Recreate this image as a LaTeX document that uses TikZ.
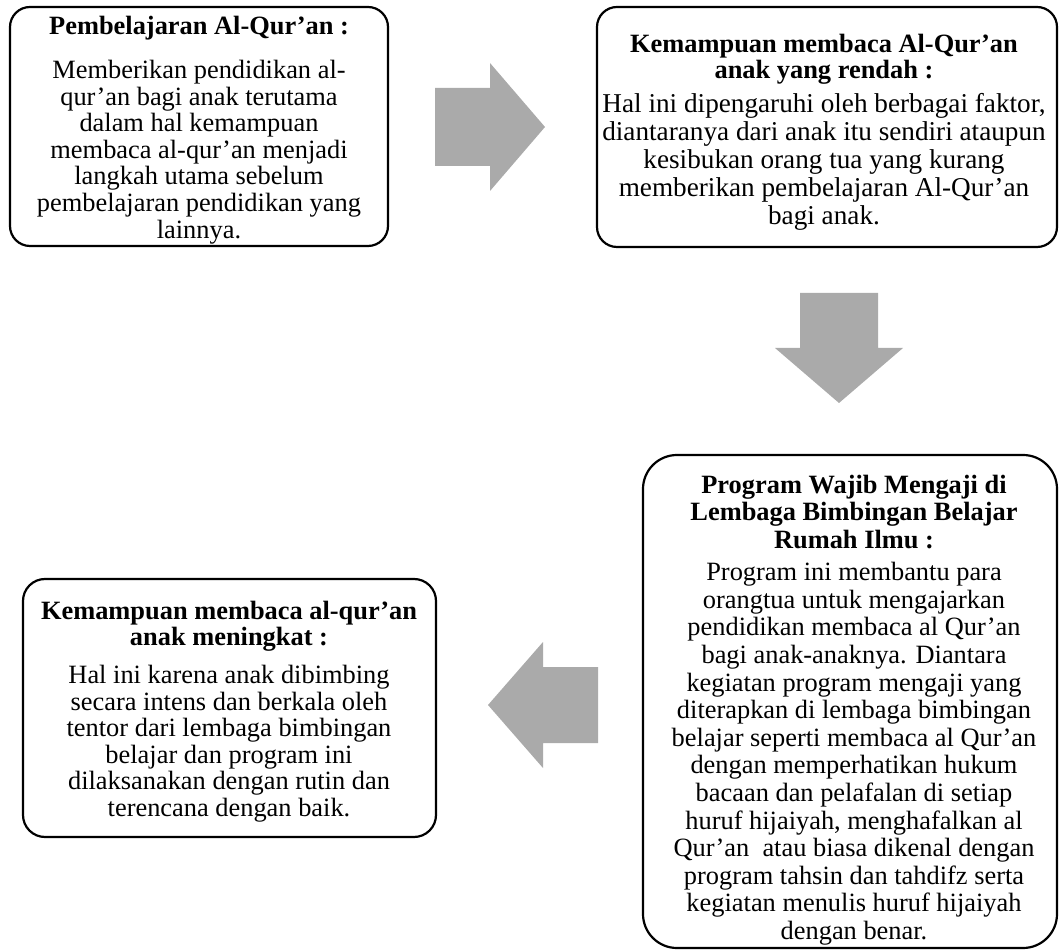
\documentclass[tikz,border=0pt]{standalone}
\usepackage{fontspec}
\setmainfont{Liberation Serif}
\usetikzlibrary{positioning}
\definecolor{arrowgray}{HTML}{AAAAAA}
\begin{document}
\begin{tikzpicture}[x=0.5pt,y=-0.5pt,
	infobox/.style={draw, line width=1.1pt, inner sep=0pt},
	infotext/.style={align=center, inner sep=0pt},
	blockarrow/.style={fill=arrowgray, draw=none}]
	\useasboundingbox (0,0) rectangle (1060,951);
	% kotak-kotak alur
	\node[infobox, rounded corners=10pt, minimum width=189pt, minimum height=119.5pt] (belajar) at (199,126.5) {};
	\node[infobox, rounded corners=10pt, minimum width=230pt, minimum height=120pt] (rendah) at (827,127) {};
	\node[infobox, rounded corners=17pt, minimum width=207pt, minimum height=246.5pt] (program) at (850,701.5) {};
	\node[infobox, rounded corners=11pt, minimum width=206.5pt, minimum height=129pt] (meningkat) at (229.5,708) {};
	% isi kotak
	\node[infotext, font=\fontsize{13.2}{13.3}\selectfont] (belajar-isi) at (199,130)
		{\textbf{Pembelajaran Al-Qur’an :}\\[8.6pt]
		Memberikan pendidikan al-\\qur’an bagi anak terutama\\dalam hal kemampuan\\membaca al-qur’an menjadi\\langkah utama sebelum\\pembelajaran pendidikan yang\\lainnya.};
	\node[infotext, font=\fontsize{13.2}{13}\selectfont] (rendah-isi) at (824,132.5)
		{\textbf{Kemampuan membaca Al-Qur’an}\\\textbf{anak yang rendah :}\\[4pt]
		{\fontsize{13.6}{14}\selectfont Hal ini dipengaruhi oleh berbagai faktor,}\\[1pt]
		{\fontsize{13.6}{14}\selectfont diantaranya dari anak itu sendiri ataupun}\\[1pt]
		{\fontsize{13.6}{14}\selectfont kesibukan orang tua yang kurang}\\[1pt]
		{\fontsize{13.6}{14}\selectfont memberikan pembelajaran Al-Qur’an}\\[1pt]
		{\fontsize{13.6}{14}\selectfont bagi anak.}};
	\node[infotext, font=\fontsize{13.2}{13.8}\selectfont] (program-isi) at (854,710)
		{\textbf{Program Wajib Mengaji di}\\\textbf{Lembaga Bimbingan Belajar}\\\textbf{Rumah Ilmu :}\\[2.3pt]
		Program ini membantu para\\orangtua untuk mengajarkan\\pendidikan membaca al Qur’an\\bagi anak-anaknya. Diantara\\kegiatan program mengaji yang\\diterapkan di lembaga bimbingan\\belajar seperti membaca al Qur’an\\dengan memperhatikan hukum\\bacaan dan pelafalan di setiap\\huruf hijaiyah, menghafalkan al\\Qur’an\ \ atau biasa dikenal dengan\\program tahsin dan tahdifz serta\\kegiatan menulis huruf hijaiyah\\dengan benar.};
	\node[infotext, font=\fontsize{13.2}{13.3}\selectfont] (meningkat-isi) at (229,711.5)
		{\textbf{Kemampuan membaca al-qur’an}\\\textbf{anak meningkat :}\\[5.5pt]
		Hal ini karena anak dibimbing\\secara intens dan berkala oleh\\tentor dari lembaga bimbingan\\belajar dan program ini\\dilaksanakan dengan rutin dan\\terencana dengan baik.};
	% panah blok
	\fill[blockarrow] (435,88) -- (490,88) -- (490,63) -- (545,127) -- (490,191) -- (490,166) -- (435,166) -- cycle;
	\fill[blockarrow] (800,293) -- (878,293) -- (878,348) -- (903,348) -- (839,403) -- (775,348) -- (800,348) -- cycle;
	\fill[blockarrow] (598,667) -- (543,667) -- (543,642) -- (488,705) -- (543,768) -- (543,743) -- (598,743) -- cycle;
\end{tikzpicture}
\end{document}
